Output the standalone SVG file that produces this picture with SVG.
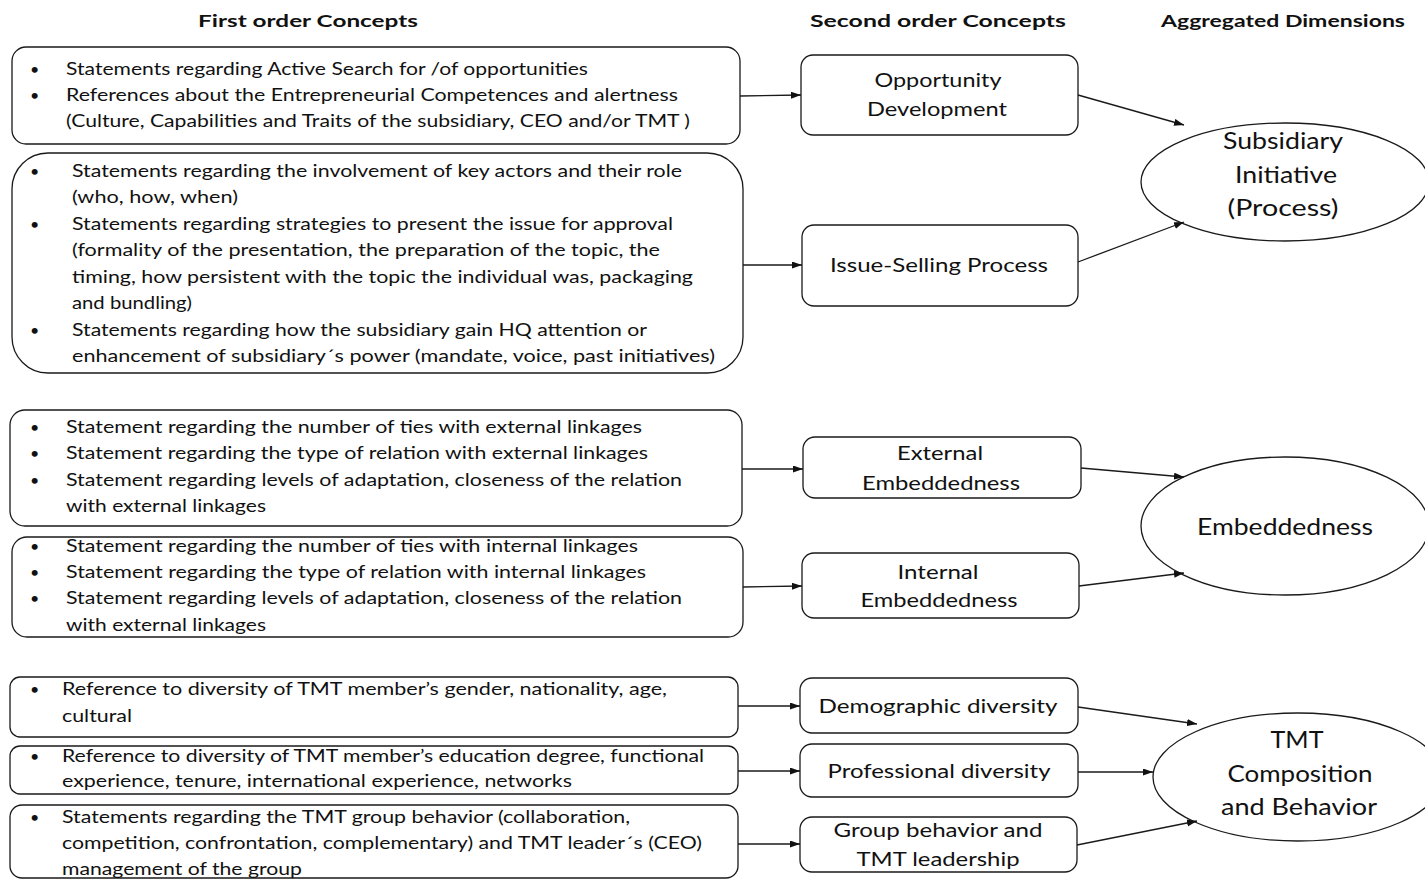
<svg xmlns="http://www.w3.org/2000/svg" width="1425" height="879" viewBox="0 0 1425 879">
  <style>
    .hdr { font-family: Lato, "Liberation Sans", sans-serif; font-weight: bold; font-size: 17.5px; fill: #111; text-anchor: middle; }
    .box { fill: #fff; stroke: #1a1a1a; stroke-width: 1.3; }
    .t { font-family: Lato, "Liberation Sans", sans-serif; font-size: 18px; fill: #111; }
    .b { font-family: Lato, "Liberation Sans", sans-serif; font-size: 16px; fill: #111; }
    .c { font-family: Lato, "Liberation Sans", sans-serif; font-size: 19.5px; fill: #111; text-anchor: middle; }
    .d { font-family: Lato, "Liberation Sans", sans-serif; font-size: 23px; fill: #111; text-anchor: middle; }
    .edge { stroke: #1a1a1a; stroke-width: 1.3; fill: none; marker-end: url(#arrow); }
  </style>
  <defs>
    <marker id="arrow" markerWidth="11" markerHeight="8" refX="10" refY="3.5" orient="auto" markerUnits="userSpaceOnUse">
      <path d="M0,0 L10,3.5 L0,7 z" fill="#111"/>
    </marker>
  </defs>
  <rect width="1425" height="879" fill="#fff"/>

  <!-- column headings -->
  <g id="headings">
    <text class="hdr" x="308" y="27" textLength="220" lengthAdjust="spacingAndGlyphs">First order Concepts</text>
    <text class="hdr" x="938" y="27" textLength="256" lengthAdjust="spacingAndGlyphs">Second order Concepts</text>
    <text class="hdr" x="1283" y="27" textLength="244" lengthAdjust="spacingAndGlyphs">Aggregated Dimensions</text>
  </g>

  <!-- first order concepts -->
  <g id="fo-opportunity">
    <rect class="box" x="12" y="47" width="728" height="97" rx="14"/>
    <text class="b" x="30" y="75">•</text>
    <text class="b" x="30" y="101">•</text>
    <text class="t" x="66" y="75" textLength="522" lengthAdjust="spacingAndGlyphs">Statements regarding Active Search for /of opportunities</text>
    <text class="t" x="66" y="101" textLength="612" lengthAdjust="spacingAndGlyphs">References about the Entrepreneurial Competences and alertness</text>
    <text class="t" x="66" y="127" textLength="624" lengthAdjust="spacingAndGlyphs">(Culture, Capabilities and Traits of the subsidiary, CEO and/or TMT )</text>
  </g>

  <g id="fo-issue-selling">
    <rect class="box" x="12" y="153" width="731" height="220" rx="36"/>
    <text class="b" x="30" y="177">•</text>
    <text class="b" x="30" y="230">•</text>
    <text class="b" x="30" y="336">•</text>
    <text class="t" x="72" y="177" textLength="610" lengthAdjust="spacingAndGlyphs">Statements regarding the involvement  of key actors and their role</text>
    <text class="t" x="72" y="203" textLength="166" lengthAdjust="spacingAndGlyphs">(who, how, when)</text>
    <text class="t" x="72" y="230" textLength="601" lengthAdjust="spacingAndGlyphs">Statements regarding strategies to present the issue for approval</text>
    <text class="t" x="72" y="256" textLength="588" lengthAdjust="spacingAndGlyphs">(formality of the presentation, the preparation of the topic, the</text>
    <text class="t" x="72" y="283" textLength="621" lengthAdjust="spacingAndGlyphs">timing, how persistent with the topic the individual  was, packaging</text>
    <text class="t" x="72" y="309" textLength="120" lengthAdjust="spacingAndGlyphs">and bundling)</text>
    <text class="t" x="72" y="336" textLength="575" lengthAdjust="spacingAndGlyphs">Statements regarding how the subsidiary  gain HQ attention or</text>
    <text class="t" x="72" y="362" textLength="643" lengthAdjust="spacingAndGlyphs">enhancement of subsidiary´s power  (mandate, voice, past initiatives)</text>
  </g>

  <g id="fo-external">
    <rect class="box" x="10" y="410" width="732" height="116" rx="15"/>
    <text class="b" x="30" y="433">•</text>
    <text class="b" x="30" y="459">•</text>
    <text class="b" x="30" y="486">•</text>
    <text class="t" x="66" y="433" textLength="576" lengthAdjust="spacingAndGlyphs">Statement regarding the number of ties with external linkages</text>
    <text class="t" x="66" y="459" textLength="582" lengthAdjust="spacingAndGlyphs">Statement regarding the type of relation with external linkages</text>
    <text class="t" x="66" y="486" textLength="616" lengthAdjust="spacingAndGlyphs">Statement regarding levels of adaptation, closeness of the relation</text>
    <text class="t" x="66" y="512" textLength="200" lengthAdjust="spacingAndGlyphs">with external linkages</text>
  </g>

  <g id="fo-internal">
    <rect class="box" x="12" y="537" width="731" height="100" rx="15"/>
    <text class="b" x="30" y="552">•</text>
    <text class="b" x="30" y="578">•</text>
    <text class="b" x="30" y="604">•</text>
    <text class="t" x="66" y="552" textLength="572" lengthAdjust="spacingAndGlyphs">Statement regarding the number of ties with internal linkages</text>
    <text class="t" x="66" y="578" textLength="580" lengthAdjust="spacingAndGlyphs">Statement regarding the type of relation with internal linkages</text>
    <text class="t" x="66" y="604" textLength="616" lengthAdjust="spacingAndGlyphs">Statement regarding levels of adaptation, closeness of the relation</text>
    <text class="t" x="66" y="631" textLength="200" lengthAdjust="spacingAndGlyphs">with external linkages</text>
  </g>

  <g id="fo-demographic">
    <rect class="box" x="10" y="677" width="728" height="60" rx="10"/>
    <text class="b" x="30" y="695">•</text>
    <text class="t" x="62" y="695" textLength="605" lengthAdjust="spacingAndGlyphs">Reference to diversity of TMT member’s  gender, nationality, age,</text>
    <text class="t" x="62" y="722" textLength="70" lengthAdjust="spacingAndGlyphs">cultural</text>
  </g>

  <g id="fo-professional">
    <rect class="box" x="10" y="746" width="728" height="48" rx="10"/>
    <text class="b" x="30" y="762">•</text>
    <text class="t" x="62" y="762" textLength="642" lengthAdjust="spacingAndGlyphs">Reference to diversity of TMT member’s education degree, functional</text>
    <text class="t" x="62" y="787" textLength="510" lengthAdjust="spacingAndGlyphs">experience, tenure, international experience, networks</text>
  </g>

  <g id="fo-group">
    <rect class="box" x="10" y="805" width="728" height="73" rx="12"/>
    <text class="b" x="30" y="823">•</text>
    <text class="t" x="62" y="823" textLength="568" lengthAdjust="spacingAndGlyphs">Statements regarding the TMT group behavior (collaboration,</text>
    <text class="t" x="62" y="849" textLength="640" lengthAdjust="spacingAndGlyphs">competition, confrontation, complementary) and TMT leader´s (CEO)</text>
    <text class="t" x="62" y="875" textLength="240" lengthAdjust="spacingAndGlyphs">management of the group</text>
  </g>

  <!-- second order concepts -->
  <g id="so-opportunity">
    <rect class="box" x="801" y="55" width="277" height="80" rx="12"/>
    <text class="c" x="938" y="87" textLength="127" lengthAdjust="spacingAndGlyphs">Opportunity</text>
    <text class="c" x="937" y="116" textLength="140" lengthAdjust="spacingAndGlyphs">Development</text>
  </g>
  <g id="so-issue-selling">
    <rect class="box" x="802" y="225" width="276" height="81" rx="12"/>
    <text class="c" x="939" y="272" textLength="218" lengthAdjust="spacingAndGlyphs">Issue-Selling Process</text>
  </g>
  <g id="so-external">
    <rect class="box" x="803" y="437" width="278" height="61" rx="12"/>
    <text class="c" x="940" y="460" textLength="86" lengthAdjust="spacingAndGlyphs">External</text>
    <text class="c" x="941" y="490" textLength="158" lengthAdjust="spacingAndGlyphs">Embeddedness</text>
  </g>
  <g id="so-internal">
    <rect class="box" x="802" y="553" width="277" height="65" rx="12"/>
    <text class="c" x="938" y="579" textLength="81" lengthAdjust="spacingAndGlyphs">Internal</text>
    <text class="c" x="939" y="607" textLength="157" lengthAdjust="spacingAndGlyphs">Embeddedness</text>
  </g>
  <g id="so-demographic">
    <rect class="box" x="800" y="678" width="278" height="55" rx="12"/>
    <text class="c" x="938" y="713" textLength="239" lengthAdjust="spacingAndGlyphs">Demographic diversity</text>
  </g>
  <g id="so-professional">
    <rect class="box" x="800" y="744" width="278" height="53" rx="12"/>
    <text class="c" x="939" y="778" textLength="223" lengthAdjust="spacingAndGlyphs">Professional diversity</text>
  </g>
  <g id="so-group">
    <rect class="box" x="800" y="817" width="277" height="55" rx="12"/>
    <text class="c" x="938" y="837" textLength="209" lengthAdjust="spacingAndGlyphs">Group behavior and</text>
    <text class="c" x="938" y="866" textLength="163" lengthAdjust="spacingAndGlyphs">TMT leadership</text>
  </g>

  <!-- aggregated dimensions -->
  <g id="ad-subsidiary-initiative">
    <ellipse class="box" cx="1285" cy="182" rx="144" ry="59"/>
    <text class="d" x="1283" y="149" textLength="120" lengthAdjust="spacingAndGlyphs">Subsidiary</text>
    <text class="d" x="1286" y="183" textLength="102" lengthAdjust="spacingAndGlyphs">Initiative</text>
    <text class="d" x="1283" y="216" textLength="111" lengthAdjust="spacingAndGlyphs">(Process)</text>
  </g>
  <g id="ad-embeddedness">
    <ellipse class="box" cx="1285" cy="526" rx="144" ry="69"/>
    <text class="d" x="1285" y="535" textLength="176" lengthAdjust="spacingAndGlyphs">Embeddedness</text>
  </g>
  <g id="ad-tmt">
    <ellipse class="box" cx="1298" cy="777" rx="145" ry="64"/>
    <text class="d" x="1297" y="748" textLength="53" lengthAdjust="spacingAndGlyphs">TMT</text>
    <text class="d" x="1300" y="782" textLength="145" lengthAdjust="spacingAndGlyphs">Composition</text>
    <text class="d" x="1299" y="815" textLength="156" lengthAdjust="spacingAndGlyphs">and Behavior</text>
  </g>

  <!-- connectors -->
  <g id="connectors">
    <line class="edge" x1="740" y1="96" x2="801" y2="95"/>
    <line class="edge" x1="743" y1="265" x2="802" y2="265"/>
    <line class="edge" x1="742" y1="469" x2="803" y2="469"/>
    <line class="edge" x1="743" y1="587" x2="802" y2="586"/>
    <line class="edge" x1="738" y1="706" x2="800" y2="706"/>
    <line class="edge" x1="738" y1="771" x2="800" y2="771"/>
    <line class="edge" x1="738" y1="844" x2="800" y2="844"/>

    <line class="edge" x1="1078" y1="95" x2="1184" y2="125"/>
    <line class="edge" x1="1078" y1="262" x2="1184" y2="222"/>
    <line class="edge" x1="1081" y1="468" x2="1184" y2="477"/>
    <line class="edge" x1="1079" y1="586" x2="1184" y2="573"/>
    <line class="edge" x1="1078" y1="707" x2="1197" y2="724"/>
    <line class="edge" x1="1078" y1="772" x2="1153" y2="772"/>
    <line class="edge" x1="1077" y1="845" x2="1197" y2="821"/>
  </g>
</svg>
